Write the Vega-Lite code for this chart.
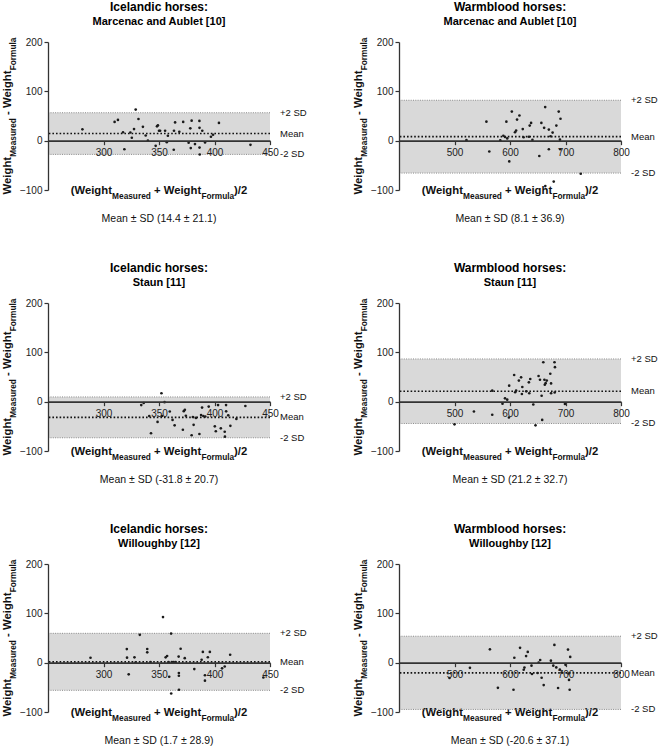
{
"$schema": "https://vega.github.io/schema/vega-lite/v6.json",
"padding": {"left": 1, "top": 1, "right": 5, "bottom": 3},
"background": "white",
"datasets": {
"stat": [
{"p":1,"lo":-27.8,"hi":56.6,"foot":"Mean ± SD (14.4 ± 21.1)"},
{"p":2,"lo":-65.7,"hi":81.9,"foot":"Mean ± SD (8.1 ± 36.9)"},
{"p":3,"lo":-73.2,"hi":9.6,"foot":"Mean ± SD (-31.8 ± 20.7)"},
{"p":4,"lo":-44.2,"hi":86.6,"foot":"Mean ± SD (21.2 ± 32.7)"},
{"p":5,"lo":-56.1,"hi":59.5,"foot":"Mean ± SD (1.7 ± 28.9)"},
{"p":6,"lo":-94.8,"hi":53.6,"foot":"Mean ± SD (-20.6 ± 37.1)"}
],
"lines": [
{"p":1,"k":"+2 SD","v":56.6},{"p":1,"k":"Mean","v":14.4},{"p":1,"k":"-2 SD","v":-27.8},
{"p":2,"k":"+2 SD","v":81.9},{"p":2,"k":"Mean","v":8.1},{"p":2,"k":"-2 SD","v":-65.7},
{"p":3,"k":"+2 SD","v":9.6},{"p":3,"k":"Mean","v":-31.8},{"p":3,"k":"-2 SD","v":-73.2},
{"p":4,"k":"+2 SD","v":86.6},{"p":4,"k":"Mean","v":21.2},{"p":4,"k":"-2 SD","v":-44.2},
{"p":5,"k":"+2 SD","v":59.5},{"p":5,"k":"Mean","v":1.7},{"p":5,"k":"-2 SD","v":-56.1},
{"p":6,"k":"+2 SD","v":53.6},{"p":6,"k":"Mean","v":-20.6},{"p":6,"k":"-2 SD","v":-94.8}
],
"pts": [
{"p":1,"a":281,"d":23},{"p":1,"a":310,"d":38},{"p":1,"a":313,"d":42},{"p":1,"a":317.6,"d":17},{"p":1,"a":318.8,"d":-17.5},{"p":1,"a":324.2,"d":16.5},{"p":1,"a":325.5,"d":6},{"p":1,"a":327.5,"d":23.5},{"p":1,"a":329,"d":63},{"p":1,"a":331.5,"d":44},{"p":1,"a":335.5,"d":28},{"p":1,"a":338,"d":10.5},{"p":1,"a":340,"d":0},{"p":1,"a":347,"d":-10.5},{"p":1,"a":348.2,"d":29},{"p":1,"a":349,"d":31},{"p":1,"a":350,"d":20},{"p":1,"a":351,"d":20},{"p":1,"a":355.5,"d":20},{"p":1,"a":357,"d":-3},{"p":1,"a":358,"d":10},{"p":1,"a":363.5,"d":20},{"p":1,"a":363.3,"d":-18.5},{"p":1,"a":364.5,"d":37},{"p":1,"a":368.3,"d":18},{"p":1,"a":371.8,"d":38},{"p":1,"a":376.7,"d":-4},{"p":1,"a":378.2,"d":25},{"p":1,"a":378.6,"d":-15},{"p":1,"a":379.4,"d":40.5},{"p":1,"a":382.4,"d":-7},{"p":1,"a":386.4,"d":40},{"p":1,"a":386.5,"d":26},{"p":1,"a":386.5,"d":-14},{"p":1,"a":386.7,"d":-28},{"p":1,"a":389,"d":20},{"p":1,"a":391.5,"d":-3.5},{"p":1,"a":396.8,"d":8},{"p":1,"a":398.7,"d":12},{"p":1,"a":404,"d":36},{"p":1,"a":432.4,"d":-8.5},
{"p":2,"a":521.5,"d":1},{"p":2,"a":557.5,"d":38.5},{"p":2,"a":562.7,"d":-22},{"p":2,"a":582.5,"d":0.5},{"p":2,"a":588,"d":10},{"p":2,"a":591,"d":7.5},{"p":2,"a":593.5,"d":38.5},{"p":2,"a":595,"d":4.5},{"p":2,"a":598.7,"d":-42},{"p":2,"a":603.3,"d":59},{"p":2,"a":609,"d":17},{"p":2,"a":611,"d":20.5},{"p":2,"a":612.7,"d":42.7},{"p":2,"a":617,"d":51},{"p":2,"a":623,"d":23.5},{"p":2,"a":624.5,"d":7},{"p":2,"a":634,"d":8},{"p":2,"a":635.5,"d":30.5},{"p":2,"a":638,"d":36},{"p":2,"a":640.4,"d":1.5},{"p":2,"a":652.8,"d":-31},{"p":2,"a":656.5,"d":36},{"p":2,"a":661.5,"d":26},{"p":2,"a":663.4,"d":68},{"p":2,"a":670,"d":22.5},{"p":2,"a":670,"d":-17.5},{"p":2,"a":673,"d":9},{"p":2,"a":676.8,"d":16.4},{"p":2,"a":683.5,"d":30.5},{"p":2,"a":687.8,"d":59},{"p":2,"a":690,"d":2},{"p":2,"a":690.5,"d":-17.5},{"p":2,"a":691,"d":44.5},{"p":2,"a":727.5,"d":-67},{"p":2,"a":663.6,"d":-92},{"p":2,"a":678.8,"d":-83},
{"p":3,"a":334,"d":-7},{"p":3,"a":336.2,"d":-2.7},{"p":3,"a":341.2,"d":-29},{"p":3,"a":342.8,"d":-64},{"p":3,"a":348.7,"d":-41},{"p":3,"a":352.2,"d":17},{"p":3,"a":352.7,"d":-29},{"p":3,"a":355,"d":-1},{"p":3,"a":359.7,"d":-20},{"p":3,"a":362.2,"d":-37},{"p":3,"a":364.1,"d":-48},{"p":3,"a":371.5,"d":-57},{"p":3,"a":372.3,"d":-19.3},{"p":3,"a":373.3,"d":-16.5},{"p":3,"a":374.2,"d":-28.5},{"p":3,"a":379.4,"d":-68},{"p":3,"a":380.5,"d":-31},{"p":3,"a":381.2,"d":-47},{"p":3,"a":383.3,"d":-33},{"p":3,"a":386.4,"d":-65.5},{"p":3,"a":387.9,"d":-27},{"p":3,"a":388.8,"d":-12},{"p":3,"a":389.9,"d":-29},{"p":3,"a":391.7,"d":-30},{"p":3,"a":394.8,"d":-10},{"p":3,"a":400.3,"d":-50},{"p":3,"a":401.2,"d":-60},{"p":3,"a":403.2,"d":-7},{"p":3,"a":405.7,"d":-54},{"p":3,"a":409.2,"d":-61},{"p":3,"a":409.4,"d":-71},{"p":3,"a":410.4,"d":-7},{"p":3,"a":410.5,"d":-19.6},{"p":3,"a":412.4,"d":-27.7},{"p":3,"a":414.3,"d":-49},{"p":3,"a":419.7,"d":-35},{"p":3,"a":427.8,"d":-8.8},
{"p":4,"a":500,"d":-46},{"p":4,"a":535,"d":-20},{"p":4,"a":568,"d":22.3},{"p":4,"a":568,"d":-26.5},{"p":4,"a":586.5,"d":-4},{"p":4,"a":591,"d":6.8},{"p":4,"a":595,"d":4},{"p":4,"a":598,"d":-32},{"p":4,"a":598.5,"d":32.5},{"p":4,"a":607.5,"d":54},{"p":4,"a":609.3,"d":19},{"p":4,"a":611,"d":22.4},{"p":4,"a":616,"d":42.7},{"p":4,"a":620,"d":49.3},{"p":4,"a":621.4,"d":15.5},{"p":4,"a":622.2,"d":29.7},{"p":4,"a":629.3,"d":21},{"p":4,"a":634,"d":39.2},{"p":4,"a":636.5,"d":46},{"p":4,"a":634.7,"d":17},{"p":4,"a":642,"d":-5.7},{"p":4,"a":646,"d":-48},{"p":4,"a":651.5,"d":52},{"p":4,"a":654,"d":44.5},{"p":4,"a":657,"d":12},{"p":4,"a":658,"d":-37},{"p":4,"a":660,"d":80},{"p":4,"a":662,"d":44.5},{"p":4,"a":662.7,"d":34.3},{"p":4,"a":664.2,"d":37.5},{"p":4,"a":666.2,"d":42.7},{"p":4,"a":672.6,"d":56.5},{"p":4,"a":674,"d":17},{"p":4,"a":674,"d":37},{"p":4,"a":680.2,"d":80},{"p":4,"a":681,"d":70},{"p":4,"a":680.5,"d":18.5},{"p":4,"a":699,"d":-4.5},
{"p":5,"a":288.3,"d":10},{"p":5,"a":321,"d":27.5},{"p":5,"a":321.2,"d":10.2},{"p":5,"a":322.7,"d":-23.7},{"p":5,"a":327.9,"d":10.8},{"p":5,"a":328.8,"d":0},{"p":5,"a":332.7,"d":56.4},{"p":5,"a":339.4,"d":27.8},{"p":5,"a":339.4,"d":21},{"p":5,"a":342.4,"d":1.4},{"p":5,"a":353.6,"d":92.4},{"p":5,"a":356,"d":10.8},{"p":5,"a":357.3,"d":13.6},{"p":5,"a":358.6,"d":1},{"p":5,"a":359.2,"d":-28.5},{"p":5,"a":360.9,"d":59},{"p":5,"a":361.5,"d":1},{"p":5,"a":363.2,"d":1},{"p":5,"a":365,"d":1},{"p":5,"a":361,"d":-62.5},{"p":5,"a":367.7,"d":12.3},{"p":5,"a":367.9,"d":-21},{"p":5,"a":367.9,"d":-26.5},{"p":5,"a":368,"d":-55},{"p":5,"a":369.5,"d":28.2},{"p":5,"a":373.2,"d":9.2},{"p":5,"a":381.8,"d":-13},{"p":5,"a":388.4,"d":6},{"p":5,"a":389.5,"d":21.8},{"p":5,"a":391.4,"d":-25.5},{"p":5,"a":391.4,"d":-36.5},{"p":5,"a":394,"d":11},{"p":5,"a":395.8,"d":21.8},{"p":5,"a":406.8,"d":-11.5},{"p":5,"a":409.2,"d":-7.8},{"p":5,"a":414.1,"d":16},{"p":5,"a":444,"d":-30},
{"p":6,"a":491,"d":-31},{"p":6,"a":527.8,"d":-10.5},{"p":6,"a":563.8,"d":27},{"p":6,"a":578.2,"d":-51},{"p":6,"a":606.3,"d":-55},{"p":6,"a":607.8,"d":10},{"p":6,"a":618.1,"d":30},{"p":6,"a":624.7,"d":-14.3},{"p":6,"a":626,"d":-10},{"p":6,"a":629,"d":13.3},{"p":6,"a":632,"d":21.8},{"p":6,"a":638.7,"d":-6},{"p":6,"a":639.6,"d":-23},{"p":6,"a":649.8,"d":-21},{"p":6,"a":651.6,"d":0},{"p":6,"a":654.4,"d":5.4},{"p":6,"a":657,"d":-30.6},{"p":6,"a":660.7,"d":-45.5},{"p":6,"a":673.7,"d":4},{"p":6,"a":678,"d":-6},{"p":6,"a":680,"d":36},{"p":6,"a":683.4,"d":-9.6},{"p":6,"a":686.6,"d":-51.4},{"p":6,"a":689.8,"d":-14},{"p":6,"a":693,"d":-20},{"p":6,"a":700,"d":-4.4},{"p":6,"a":704.5,"d":26.5},{"p":6,"a":705.5,"d":-22},{"p":6,"a":706.3,"d":-35},{"p":6,"a":707.5,"d":-55},{"p":6,"a":708.5,"d":11.6}
]
},
"columns": 2,
"spacing": {"row": 113, "column": 129},
"bounds": "flush",
"concat": [
{"width":222,"height":148,"title":{"text":"Icelandic horses:","subtitle":"Marcenac and Aublet [10]"},"layer":[
 {"data":{"name":"stat"},"transform":[{"filter":"datum.p == 1"}],"layer":[
  {"mark":{"type":"rect","color":"#d9d9d9"},"encoding":{"y":{"field":"lo","type":"quantitative","title":null,"scale":{"domain":[-100,200],"nice":false,"zero":false},"axis":{"values":[-100,0,100,200],"title":null,"zindex":1}},"y2":{"field":"hi"}}},
  {"mark":{"type":"text","baseline":"middle","fontSize":10.5,"dy":29},"encoding":{"y":{"datum":-100,"type":"quantitative","title":null},"text":{"field":"foot"}}},
  {"mark":{"type":"text","text":"(Weight","align":"left","baseline":"alphabetic","fontWeight":"bold","fontSize":11.3,"dx":-88.3,"dy":4},"encoding":{"y":{"datum":-100,"type":"quantitative","title":null}}},
  {"mark":{"type":"text","text":"Measured","align":"left","baseline":"alphabetic","fontWeight":"bold","fontSize":8.3,"dx":-46.9,"dy":8.5},"encoding":{"y":{"datum":-100,"type":"quantitative","title":null}}},
  {"mark":{"type":"text","text":"+ Weight","align":"left","baseline":"alphabetic","fontWeight":"bold","fontSize":11.3,"dx":-5.0,"dy":4},"encoding":{"y":{"datum":-100,"type":"quantitative","title":null}}},
  {"mark":{"type":"text","text":"Formula","align":"left","baseline":"alphabetic","fontWeight":"bold","fontSize":8.3,"dx":42.4,"dy":8.5},"encoding":{"y":{"datum":-100,"type":"quantitative","title":null}}},
  {"mark":{"type":"text","text":")/2","align":"left","baseline":"alphabetic","fontWeight":"bold","fontSize":11.3,"dx":75.1,"dy":4},"encoding":{"y":{"datum":-100,"type":"quantitative","title":null}}},
  {"mark":{"type":"text","text":"Weight","angle":270,"align":"left","baseline":"alphabetic","fontWeight":"bold","fontSize":11.3,"dx":-78.4,"dy":-148},"encoding":{}},
  {"mark":{"type":"text","text":"Measured","angle":270,"align":"left","baseline":"alphabetic","fontWeight":"bold","fontSize":8.3,"dx":-40.8,"dy":-143.5},"encoding":{}},
  {"mark":{"type":"text","text":"- Weight","angle":270,"align":"left","baseline":"alphabetic","fontWeight":"bold","fontSize":11.3,"dx":1.1,"dy":-148},"encoding":{}},
  {"mark":{"type":"text","text":"Formula","angle":270,"align":"left","baseline":"alphabetic","fontWeight":"bold","fontSize":8.3,"dx":45.7,"dy":-143.5},"encoding":{}}
 ]},
 {"data":{"name":"lines"},"transform":[{"filter":"datum.p == 1"}],"layer":[
  {"transform":[{"filter":"datum.k != 'Mean'"}],"mark":{"type":"rule","color":"#8a8a8a","strokeDash":[1,1.3],"strokeWidth":1},"encoding":{"y":{"field":"v","type":"quantitative","title":null}}},
  {"transform":[{"filter":"datum.k == 'Mean'"}],"mark":{"type":"rule","color":"#111","strokeDash":[1.6,2],"strokeWidth":1.6},"encoding":{"y":{"field":"v","type":"quantitative","title":null}}},
  {"mark":{"type":"text","align":"left","baseline":"middle","fontSize":9.5,"dx":121},"encoding":{"y":{"field":"v","type":"quantitative","title":null},"text":{"field":"k"}}}
 ]},
 {"data":{"name":"pts"},"transform":[{"filter":"datum.p == 1"}],"mark":{"type":"point","filled":true,"size":7,"color":"#1a1a1a","opacity":1},"encoding":{"x":{"field":"a","type":"quantitative","title":null,"scale":{"domain":[250,450],"nice":false,"zero":false},"axis":{"values":[300,350,400,450],"title":null,"zindex":1}},"y":{"field":"d","type":"quantitative","title":null}}}
]},
{"width":222,"height":148,"title":{"text":"Warmblood horses:","subtitle":"Marcenac and Aublet [10]"},"layer":[
 {"data":{"name":"stat"},"transform":[{"filter":"datum.p == 2"}],"layer":[
  {"mark":{"type":"rect","color":"#d9d9d9"},"encoding":{"y":{"field":"lo","type":"quantitative","title":null,"scale":{"domain":[-100,200],"nice":false,"zero":false},"axis":{"values":[-100,0,100,200],"title":null,"zindex":1}},"y2":{"field":"hi"}}},
  {"mark":{"type":"text","baseline":"middle","fontSize":10.5,"dy":29},"encoding":{"y":{"datum":-100,"type":"quantitative","title":null},"text":{"field":"foot"}}},
  {"mark":{"type":"text","text":"(Weight","align":"left","baseline":"alphabetic","fontWeight":"bold","fontSize":11.3,"dx":-88.3,"dy":4},"encoding":{"y":{"datum":-100,"type":"quantitative","title":null}}},
  {"mark":{"type":"text","text":"Measured","align":"left","baseline":"alphabetic","fontWeight":"bold","fontSize":8.3,"dx":-46.9,"dy":8.5},"encoding":{"y":{"datum":-100,"type":"quantitative","title":null}}},
  {"mark":{"type":"text","text":"+ Weight","align":"left","baseline":"alphabetic","fontWeight":"bold","fontSize":11.3,"dx":-5.0,"dy":4},"encoding":{"y":{"datum":-100,"type":"quantitative","title":null}}},
  {"mark":{"type":"text","text":"Formula","align":"left","baseline":"alphabetic","fontWeight":"bold","fontSize":8.3,"dx":42.4,"dy":8.5},"encoding":{"y":{"datum":-100,"type":"quantitative","title":null}}},
  {"mark":{"type":"text","text":")/2","align":"left","baseline":"alphabetic","fontWeight":"bold","fontSize":11.3,"dx":75.1,"dy":4},"encoding":{"y":{"datum":-100,"type":"quantitative","title":null}}},
  {"mark":{"type":"text","text":"Weight","angle":270,"align":"left","baseline":"alphabetic","fontWeight":"bold","fontSize":11.3,"dx":-78.4,"dy":-148},"encoding":{}},
  {"mark":{"type":"text","text":"Measured","angle":270,"align":"left","baseline":"alphabetic","fontWeight":"bold","fontSize":8.3,"dx":-40.8,"dy":-143.5},"encoding":{}},
  {"mark":{"type":"text","text":"- Weight","angle":270,"align":"left","baseline":"alphabetic","fontWeight":"bold","fontSize":11.3,"dx":1.1,"dy":-148},"encoding":{}},
  {"mark":{"type":"text","text":"Formula","angle":270,"align":"left","baseline":"alphabetic","fontWeight":"bold","fontSize":8.3,"dx":45.7,"dy":-143.5},"encoding":{}}
 ]},
 {"data":{"name":"lines"},"transform":[{"filter":"datum.p == 2"}],"layer":[
  {"transform":[{"filter":"datum.k != 'Mean'"}],"mark":{"type":"rule","color":"#8a8a8a","strokeDash":[1,1.3],"strokeWidth":1},"encoding":{"y":{"field":"v","type":"quantitative","title":null}}},
  {"transform":[{"filter":"datum.k == 'Mean'"}],"mark":{"type":"rule","color":"#111","strokeDash":[1.6,2],"strokeWidth":1.6},"encoding":{"y":{"field":"v","type":"quantitative","title":null}}},
  {"mark":{"type":"text","align":"left","baseline":"middle","fontSize":9.5,"dx":121},"encoding":{"y":{"field":"v","type":"quantitative","title":null},"text":{"field":"k"}}}
 ]},
 {"data":{"name":"pts"},"transform":[{"filter":"datum.p == 2"}],"mark":{"type":"point","filled":true,"size":7,"color":"#1a1a1a","opacity":1},"encoding":{"x":{"field":"a","type":"quantitative","title":null,"scale":{"domain":[400,800],"nice":false,"zero":false},"axis":{"values":[500,600,700,800],"title":null,"zindex":1}},"y":{"field":"d","type":"quantitative","title":null}}}
]},
{"width":222,"height":148,"title":{"text":"Icelandic horses:","subtitle":"Staun [11]"},"layer":[
 {"data":{"name":"stat"},"transform":[{"filter":"datum.p == 3"}],"layer":[
  {"mark":{"type":"rect","color":"#d9d9d9"},"encoding":{"y":{"field":"lo","type":"quantitative","title":null,"scale":{"domain":[-100,200],"nice":false,"zero":false},"axis":{"values":[-100,0,100,200],"title":null,"zindex":1}},"y2":{"field":"hi"}}},
  {"mark":{"type":"text","baseline":"middle","fontSize":10.5,"dy":29},"encoding":{"y":{"datum":-100,"type":"quantitative","title":null},"text":{"field":"foot"}}},
  {"mark":{"type":"text","text":"(Weight","align":"left","baseline":"alphabetic","fontWeight":"bold","fontSize":11.3,"dx":-88.3,"dy":4},"encoding":{"y":{"datum":-100,"type":"quantitative","title":null}}},
  {"mark":{"type":"text","text":"Measured","align":"left","baseline":"alphabetic","fontWeight":"bold","fontSize":8.3,"dx":-46.9,"dy":8.5},"encoding":{"y":{"datum":-100,"type":"quantitative","title":null}}},
  {"mark":{"type":"text","text":"+ Weight","align":"left","baseline":"alphabetic","fontWeight":"bold","fontSize":11.3,"dx":-5.0,"dy":4},"encoding":{"y":{"datum":-100,"type":"quantitative","title":null}}},
  {"mark":{"type":"text","text":"Formula","align":"left","baseline":"alphabetic","fontWeight":"bold","fontSize":8.3,"dx":42.4,"dy":8.5},"encoding":{"y":{"datum":-100,"type":"quantitative","title":null}}},
  {"mark":{"type":"text","text":")/2","align":"left","baseline":"alphabetic","fontWeight":"bold","fontSize":11.3,"dx":75.1,"dy":4},"encoding":{"y":{"datum":-100,"type":"quantitative","title":null}}},
  {"mark":{"type":"text","text":"Weight","angle":270,"align":"left","baseline":"alphabetic","fontWeight":"bold","fontSize":11.3,"dx":-78.4,"dy":-148},"encoding":{}},
  {"mark":{"type":"text","text":"Measured","angle":270,"align":"left","baseline":"alphabetic","fontWeight":"bold","fontSize":8.3,"dx":-40.8,"dy":-143.5},"encoding":{}},
  {"mark":{"type":"text","text":"- Weight","angle":270,"align":"left","baseline":"alphabetic","fontWeight":"bold","fontSize":11.3,"dx":1.1,"dy":-148},"encoding":{}},
  {"mark":{"type":"text","text":"Formula","angle":270,"align":"left","baseline":"alphabetic","fontWeight":"bold","fontSize":8.3,"dx":45.7,"dy":-143.5},"encoding":{}}
 ]},
 {"data":{"name":"lines"},"transform":[{"filter":"datum.p == 3"}],"layer":[
  {"transform":[{"filter":"datum.k != 'Mean'"}],"mark":{"type":"rule","color":"#8a8a8a","strokeDash":[1,1.3],"strokeWidth":1},"encoding":{"y":{"field":"v","type":"quantitative","title":null}}},
  {"transform":[{"filter":"datum.k == 'Mean'"}],"mark":{"type":"rule","color":"#111","strokeDash":[1.6,2],"strokeWidth":1.6},"encoding":{"y":{"field":"v","type":"quantitative","title":null}}},
  {"mark":{"type":"text","align":"left","baseline":"middle","fontSize":9.5,"dx":121},"encoding":{"y":{"field":"v","type":"quantitative","title":null},"text":{"field":"k"}}}
 ]},
 {"data":{"name":"pts"},"transform":[{"filter":"datum.p == 3"}],"mark":{"type":"point","filled":true,"size":7,"color":"#1a1a1a","opacity":1},"encoding":{"x":{"field":"a","type":"quantitative","title":null,"scale":{"domain":[250,450],"nice":false,"zero":false},"axis":{"values":[300,350,400,450],"title":null,"zindex":1}},"y":{"field":"d","type":"quantitative","title":null}}}
]},
{"width":222,"height":148,"title":{"text":"Warmblood horses:","subtitle":"Staun [11]"},"layer":[
 {"data":{"name":"stat"},"transform":[{"filter":"datum.p == 4"}],"layer":[
  {"mark":{"type":"rect","color":"#d9d9d9"},"encoding":{"y":{"field":"lo","type":"quantitative","title":null,"scale":{"domain":[-100,200],"nice":false,"zero":false},"axis":{"values":[-100,0,100,200],"title":null,"zindex":1}},"y2":{"field":"hi"}}},
  {"mark":{"type":"text","baseline":"middle","fontSize":10.5,"dy":29},"encoding":{"y":{"datum":-100,"type":"quantitative","title":null},"text":{"field":"foot"}}},
  {"mark":{"type":"text","text":"(Weight","align":"left","baseline":"alphabetic","fontWeight":"bold","fontSize":11.3,"dx":-88.3,"dy":4},"encoding":{"y":{"datum":-100,"type":"quantitative","title":null}}},
  {"mark":{"type":"text","text":"Measured","align":"left","baseline":"alphabetic","fontWeight":"bold","fontSize":8.3,"dx":-46.9,"dy":8.5},"encoding":{"y":{"datum":-100,"type":"quantitative","title":null}}},
  {"mark":{"type":"text","text":"+ Weight","align":"left","baseline":"alphabetic","fontWeight":"bold","fontSize":11.3,"dx":-5.0,"dy":4},"encoding":{"y":{"datum":-100,"type":"quantitative","title":null}}},
  {"mark":{"type":"text","text":"Formula","align":"left","baseline":"alphabetic","fontWeight":"bold","fontSize":8.3,"dx":42.4,"dy":8.5},"encoding":{"y":{"datum":-100,"type":"quantitative","title":null}}},
  {"mark":{"type":"text","text":")/2","align":"left","baseline":"alphabetic","fontWeight":"bold","fontSize":11.3,"dx":75.1,"dy":4},"encoding":{"y":{"datum":-100,"type":"quantitative","title":null}}},
  {"mark":{"type":"text","text":"Weight","angle":270,"align":"left","baseline":"alphabetic","fontWeight":"bold","fontSize":11.3,"dx":-78.4,"dy":-148},"encoding":{}},
  {"mark":{"type":"text","text":"Measured","angle":270,"align":"left","baseline":"alphabetic","fontWeight":"bold","fontSize":8.3,"dx":-40.8,"dy":-143.5},"encoding":{}},
  {"mark":{"type":"text","text":"- Weight","angle":270,"align":"left","baseline":"alphabetic","fontWeight":"bold","fontSize":11.3,"dx":1.1,"dy":-148},"encoding":{}},
  {"mark":{"type":"text","text":"Formula","angle":270,"align":"left","baseline":"alphabetic","fontWeight":"bold","fontSize":8.3,"dx":45.7,"dy":-143.5},"encoding":{}}
 ]},
 {"data":{"name":"lines"},"transform":[{"filter":"datum.p == 4"}],"layer":[
  {"transform":[{"filter":"datum.k != 'Mean'"}],"mark":{"type":"rule","color":"#8a8a8a","strokeDash":[1,1.3],"strokeWidth":1},"encoding":{"y":{"field":"v","type":"quantitative","title":null}}},
  {"transform":[{"filter":"datum.k == 'Mean'"}],"mark":{"type":"rule","color":"#111","strokeDash":[1.6,2],"strokeWidth":1.6},"encoding":{"y":{"field":"v","type":"quantitative","title":null}}},
  {"mark":{"type":"text","align":"left","baseline":"middle","fontSize":9.5,"dx":121},"encoding":{"y":{"field":"v","type":"quantitative","title":null},"text":{"field":"k"}}}
 ]},
 {"data":{"name":"pts"},"transform":[{"filter":"datum.p == 4"}],"mark":{"type":"point","filled":true,"size":7,"color":"#1a1a1a","opacity":1},"encoding":{"x":{"field":"a","type":"quantitative","title":null,"scale":{"domain":[400,800],"nice":false,"zero":false},"axis":{"values":[500,600,700,800],"title":null,"zindex":1}},"y":{"field":"d","type":"quantitative","title":null}}}
]},
{"width":222,"height":148,"title":{"text":"Icelandic horses:","subtitle":"Willoughby [12]"},"layer":[
 {"data":{"name":"stat"},"transform":[{"filter":"datum.p == 5"}],"layer":[
  {"mark":{"type":"rect","color":"#d9d9d9"},"encoding":{"y":{"field":"lo","type":"quantitative","title":null,"scale":{"domain":[-100,200],"nice":false,"zero":false},"axis":{"values":[-100,0,100,200],"title":null,"zindex":1}},"y2":{"field":"hi"}}},
  {"mark":{"type":"text","baseline":"middle","fontSize":10.5,"dy":29},"encoding":{"y":{"datum":-100,"type":"quantitative","title":null},"text":{"field":"foot"}}},
  {"mark":{"type":"text","text":"(Weight","align":"left","baseline":"alphabetic","fontWeight":"bold","fontSize":11.3,"dx":-88.3,"dy":4},"encoding":{"y":{"datum":-100,"type":"quantitative","title":null}}},
  {"mark":{"type":"text","text":"Measured","align":"left","baseline":"alphabetic","fontWeight":"bold","fontSize":8.3,"dx":-46.9,"dy":8.5},"encoding":{"y":{"datum":-100,"type":"quantitative","title":null}}},
  {"mark":{"type":"text","text":"+ Weight","align":"left","baseline":"alphabetic","fontWeight":"bold","fontSize":11.3,"dx":-5.0,"dy":4},"encoding":{"y":{"datum":-100,"type":"quantitative","title":null}}},
  {"mark":{"type":"text","text":"Formula","align":"left","baseline":"alphabetic","fontWeight":"bold","fontSize":8.3,"dx":42.4,"dy":8.5},"encoding":{"y":{"datum":-100,"type":"quantitative","title":null}}},
  {"mark":{"type":"text","text":")/2","align":"left","baseline":"alphabetic","fontWeight":"bold","fontSize":11.3,"dx":75.1,"dy":4},"encoding":{"y":{"datum":-100,"type":"quantitative","title":null}}},
  {"mark":{"type":"text","text":"Weight","angle":270,"align":"left","baseline":"alphabetic","fontWeight":"bold","fontSize":11.3,"dx":-78.4,"dy":-148},"encoding":{}},
  {"mark":{"type":"text","text":"Measured","angle":270,"align":"left","baseline":"alphabetic","fontWeight":"bold","fontSize":8.3,"dx":-40.8,"dy":-143.5},"encoding":{}},
  {"mark":{"type":"text","text":"- Weight","angle":270,"align":"left","baseline":"alphabetic","fontWeight":"bold","fontSize":11.3,"dx":1.1,"dy":-148},"encoding":{}},
  {"mark":{"type":"text","text":"Formula","angle":270,"align":"left","baseline":"alphabetic","fontWeight":"bold","fontSize":8.3,"dx":45.7,"dy":-143.5},"encoding":{}}
 ]},
 {"data":{"name":"lines"},"transform":[{"filter":"datum.p == 5"}],"layer":[
  {"transform":[{"filter":"datum.k != 'Mean'"}],"mark":{"type":"rule","color":"#8a8a8a","strokeDash":[1,1.3],"strokeWidth":1},"encoding":{"y":{"field":"v","type":"quantitative","title":null}}},
  {"transform":[{"filter":"datum.k == 'Mean'"}],"mark":{"type":"rule","color":"#111","strokeDash":[1.6,2],"strokeWidth":1.6},"encoding":{"y":{"field":"v","type":"quantitative","title":null}}},
  {"mark":{"type":"text","align":"left","baseline":"middle","fontSize":9.5,"dx":121},"encoding":{"y":{"field":"v","type":"quantitative","title":null},"text":{"field":"k"}}}
 ]},
 {"data":{"name":"pts"},"transform":[{"filter":"datum.p == 5"}],"mark":{"type":"point","filled":true,"size":7,"color":"#1a1a1a","opacity":1},"encoding":{"x":{"field":"a","type":"quantitative","title":null,"scale":{"domain":[250,450],"nice":false,"zero":false},"axis":{"values":[300,350,400,450],"title":null,"zindex":1}},"y":{"field":"d","type":"quantitative","title":null}}}
]},
{"width":222,"height":148,"title":{"text":"Warmblood horses:","subtitle":"Willoughby [12]"},"layer":[
 {"data":{"name":"stat"},"transform":[{"filter":"datum.p == 6"}],"layer":[
  {"mark":{"type":"rect","color":"#d9d9d9"},"encoding":{"y":{"field":"lo","type":"quantitative","title":null,"scale":{"domain":[-100,200],"nice":false,"zero":false},"axis":{"values":[-100,0,100,200],"title":null,"zindex":1}},"y2":{"field":"hi"}}},
  {"mark":{"type":"text","baseline":"middle","fontSize":10.5,"dy":29},"encoding":{"y":{"datum":-100,"type":"quantitative","title":null},"text":{"field":"foot"}}},
  {"mark":{"type":"text","text":"(Weight","align":"left","baseline":"alphabetic","fontWeight":"bold","fontSize":11.3,"dx":-88.3,"dy":4},"encoding":{"y":{"datum":-100,"type":"quantitative","title":null}}},
  {"mark":{"type":"text","text":"Measured","align":"left","baseline":"alphabetic","fontWeight":"bold","fontSize":8.3,"dx":-46.9,"dy":8.5},"encoding":{"y":{"datum":-100,"type":"quantitative","title":null}}},
  {"mark":{"type":"text","text":"+ Weight","align":"left","baseline":"alphabetic","fontWeight":"bold","fontSize":11.3,"dx":-5.0,"dy":4},"encoding":{"y":{"datum":-100,"type":"quantitative","title":null}}},
  {"mark":{"type":"text","text":"Formula","align":"left","baseline":"alphabetic","fontWeight":"bold","fontSize":8.3,"dx":42.4,"dy":8.5},"encoding":{"y":{"datum":-100,"type":"quantitative","title":null}}},
  {"mark":{"type":"text","text":")/2","align":"left","baseline":"alphabetic","fontWeight":"bold","fontSize":11.3,"dx":75.1,"dy":4},"encoding":{"y":{"datum":-100,"type":"quantitative","title":null}}},
  {"mark":{"type":"text","text":"Weight","angle":270,"align":"left","baseline":"alphabetic","fontWeight":"bold","fontSize":11.3,"dx":-78.4,"dy":-148},"encoding":{}},
  {"mark":{"type":"text","text":"Measured","angle":270,"align":"left","baseline":"alphabetic","fontWeight":"bold","fontSize":8.3,"dx":-40.8,"dy":-143.5},"encoding":{}},
  {"mark":{"type":"text","text":"- Weight","angle":270,"align":"left","baseline":"alphabetic","fontWeight":"bold","fontSize":11.3,"dx":1.1,"dy":-148},"encoding":{}},
  {"mark":{"type":"text","text":"Formula","angle":270,"align":"left","baseline":"alphabetic","fontWeight":"bold","fontSize":8.3,"dx":45.7,"dy":-143.5},"encoding":{}}
 ]},
 {"data":{"name":"lines"},"transform":[{"filter":"datum.p == 6"}],"layer":[
  {"transform":[{"filter":"datum.k != 'Mean'"}],"mark":{"type":"rule","color":"#8a8a8a","strokeDash":[1,1.3],"strokeWidth":1},"encoding":{"y":{"field":"v","type":"quantitative","title":null}}},
  {"transform":[{"filter":"datum.k == 'Mean'"}],"mark":{"type":"rule","color":"#111","strokeDash":[1.6,2],"strokeWidth":1.6},"encoding":{"y":{"field":"v","type":"quantitative","title":null}}},
  {"mark":{"type":"text","align":"left","baseline":"middle","fontSize":9.5,"dx":121},"encoding":{"y":{"field":"v","type":"quantitative","title":null},"text":{"field":"k"}}}
 ]},
 {"data":{"name":"pts"},"transform":[{"filter":"datum.p == 6"}],"mark":{"type":"point","filled":true,"size":7,"color":"#1a1a1a","opacity":1},"encoding":{"x":{"field":"a","type":"quantitative","title":null,"scale":{"domain":[400,800],"nice":false,"zero":false},"axis":{"values":[500,600,700,800],"title":null,"zindex":1}},"y":{"field":"d","type":"quantitative","title":null}}}
]}
],
"config": {
 "font": "Liberation Sans",
 "view": {"stroke": null},
 "text": {"color": "#111", "font": "Liberation Sans"},
 "axis": {"grid": false, "labelFont": "Liberation Sans", "labelFontSize": 10, "labelColor": "#222", "domainColor": "#333", "tickColor": "#333", "domainWidth": 1.3, "tickWidth": 1.2, "tickSize": 4, "labelPadding": 2, "zindex": 1, "labelFlush": false, "labelOverlap": false},
 "axisX": {"offset": -49.333, "domainWidth": 1.6, "labelPadding": 3},
 "title": {"font": "Liberation Sans", "fontSize": 12, "fontWeight": "bold", "color": "#000", "subtitleFont": "Liberation Sans", "subtitleFontSize": 11, "subtitleFontWeight": "bold", "subtitleColor": "#000", "anchor": "middle", "frame": "group", "offset": 9.5, "subtitlePadding": 1.5}
}
}
